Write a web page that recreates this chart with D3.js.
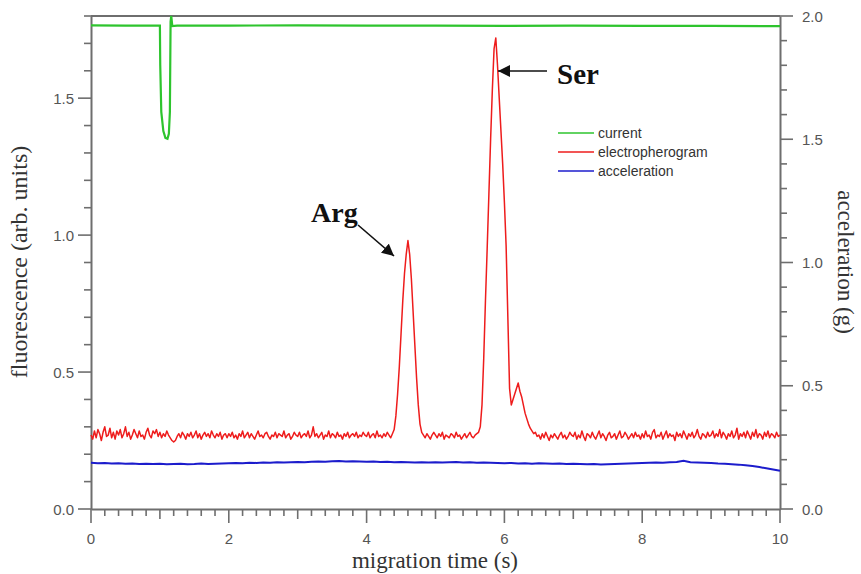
<!DOCTYPE html>
<html><head><meta charset="utf-8">
<script src="https://cdn.jsdelivr.net/npm/d3@7"></script>
<style>body{margin:0;background:#fff}svg{display:block}</style>
</head><body>
<svg id="c" width="861" height="574"></svg>
<script>
// ---- data ----
const xTicks = [0, 2, 4, 6, 8, 10];
const leftTicks = [0.0, 0.5, 1.0, 1.5];
const rightTicks = [0.0, 0.5, 1.0, 1.5, 2.0];
const seriesNames = ["current", "electropherogram", "acceleration"];
const seriesColors = ["#2ec42e", "#ee1c1c", "#1c1ccc"];

// electropherogram (fluorescence, arb. units), sampled every 0.025 s from 0 to 10 s
const ephStep = 0.025;
const ephValues = [
 // 0 s
 0.27,0.255,0.285,0.26,0.29,0.275,0.25,0.28,0.3,0.265,0.27,0.295,0.26,0.28,0.255,0.285,0.27,0.29,0.26,0.275,
 0.3,0.265,0.28,0.255,0.27,0.29,0.275,0.26,0.285,0.265,0.27,0.255,0.28,0.295,0.27,0.26,0.285,0.275,0.29,0.265,
 // 1 s
 0.28,0.26,0.275,0.265,0.285,0.27,0.26,0.25,0.245,0.25,0.265,0.275,0.26,0.28,0.27,0.255,0.275,0.265,0.28,0.26,
 0.27,0.285,0.26,0.275,0.255,0.27,0.28,0.265,0.275,0.26,0.285,0.27,0.26,0.275,0.265,0.28,0.255,0.27,0.275,0.26,
 // 2 s
 0.275,0.265,0.28,0.26,0.27,0.255,0.275,0.265,0.285,0.26,0.27,0.28,0.26,0.275,0.265,0.255,0.27,0.285,0.265,0.27,
 0.26,0.275,0.28,0.265,0.255,0.27,0.265,0.28,0.26,0.275,0.27,0.265,0.285,0.26,0.27,0.275,0.255,0.265,0.28,0.27,
 // 3 s
 0.265,0.28,0.26,0.27,0.275,0.265,0.285,0.26,0.27,0.3,0.265,0.275,0.26,0.27,0.28,0.255,0.27,0.265,0.285,0.26,
 0.275,0.27,0.26,0.28,0.265,0.27,0.255,0.275,0.265,0.28,0.26,0.27,0.275,0.265,0.28,0.26,0.27,0.265,0.28,0.27,
 // 4 s  (Arg peak)
 0.265,0.28,0.26,0.27,0.275,0.26,0.285,0.265,0.27,0.26,0.275,0.265,0.28,0.27,0.26,0.275,
 0.29,0.34,0.42,0.52,0.64,0.76,0.86,0.93,0.98,0.93,0.84,0.72,0.60,0.48,0.38,0.31,0.28,
 0.27,0.26,0.275,0.265,0.255,0.27,0.28,
 // 5 s  (Ser peak)
 0.27,0.26,0.275,0.265,0.28,0.255,0.27,0.265,0.26,0.275,0.27,0.26,0.28,0.265,0.27,0.255,0.265,0.275,0.26,0.27,
 0.28,0.265,0.26,0.27,0.275,0.28,
 0.30,0.38,0.55,0.76,0.95,1.15,1.35,1.53,1.68,1.72,1.62,1.50,1.38,1.26,
 // 6 s  (shoulder)
 1.12,0.96,0.70,0.44,0.38,0.40,0.42,0.44,0.46,0.43,0.41,0.38,0.35,0.33,0.31,0.295,0.285,0.275,
 0.28,0.265,0.27,0.255,0.275,0.26,0.28,0.265,0.25,0.27,0.26,0.275,0.265,0.255,0.27,0.28,0.26,0.27,0.255,0.265,0.28,0.27,
 // 7 s
 0.265,0.28,0.255,0.27,0.26,0.285,0.265,0.25,0.275,0.27,0.26,0.28,0.265,0.255,0.27,0.285,0.26,0.275,0.265,0.25,
 0.27,0.28,0.26,0.265,0.275,0.255,0.27,0.285,0.26,0.265,0.28,0.27,0.255,0.265,0.275,0.26,0.28,0.265,0.27,0.255,
 // 8 s
 0.275,0.26,0.285,0.265,0.27,0.255,0.28,0.29,0.26,0.27,0.265,0.28,0.255,0.27,0.285,0.26,0.275,0.265,0.27,0.25,
 0.28,0.265,0.275,0.26,0.285,0.27,0.255,0.275,0.265,0.28,0.26,0.27,0.29,0.265,0.255,0.275,0.27,0.26,0.28,0.265,
 // 9 s - 10 s
 0.27,0.285,0.26,0.275,0.265,0.29,0.26,0.28,0.27,0.255,0.275,0.265,0.285,0.26,0.27,0.295,0.255,0.275,0.265,0.28,
 0.26,0.285,0.27,0.255,0.28,0.265,0.29,0.26,0.275,0.27,0.255,0.28,0.265,0.285,0.26,0.275,0.27,0.26,0.28,0.265,0.27
];

// acceleration (g), sampled every 0.1 s
const accStep = 0.1;
const accValues = [
 0.188,0.186,0.187,0.185,0.186,0.184,0.185,0.183,0.184,0.183,
 0.184,0.182,0.183,0.184,0.182,0.183,0.185,0.183,0.184,0.185,
 0.186,0.187,0.186,0.188,0.187,0.189,0.188,0.190,0.189,0.190,
 0.191,0.190,0.192,0.193,0.192,0.194,0.195,0.193,0.194,0.193,
 0.192,0.193,0.191,0.192,0.190,0.191,0.190,0.189,0.190,0.189,
 0.190,0.189,0.190,0.191,0.189,0.190,0.188,0.189,0.188,0.187,
 0.186,0.187,0.185,0.186,0.184,0.186,0.185,0.184,0.185,0.183,
 0.184,0.183,0.182,0.183,0.181,0.182,0.183,0.184,0.185,0.186,
 0.187,0.188,0.189,0.188,0.190,0.191,0.196,0.190,0.189,0.188,
 0.187,0.185,0.184,0.182,0.180,0.177,0.174,0.170,0.165,0.160,0.155
];

// current (plotted against left scale), time / value pairs
const curTimes  = [0, 0.5, 1.0, 1.005, 1.02, 1.05, 1.08, 1.11, 1.13, 1.145, 1.155, 1.165, 1.18, 1.25, 2, 3, 4, 5, 6, 7, 8, 9, 10];
const curValues = [1.766, 1.765, 1.765, 1.62, 1.45, 1.38, 1.355, 1.352, 1.37, 1.45, 1.78, 1.80, 1.763, 1.765, 1.765, 1.766, 1.765, 1.765, 1.764, 1.765, 1.764, 1.764, 1.763];

// ---- layout ----
const L = 91, R = 780, T = 16, B = 509;
const svg = d3.select("#c");
const x = d3.scaleLinear().domain([0, 10]).range([L, R]);
const yL = d3.scaleLinear().domain([0, 1.8]).range([B, T]);
const yR = d3.scaleLinear().domain([0, 2.0]).range([B, T]);
const axisCol = "#6e6e6e";
const sans = "Liberation Sans, Arial, sans-serif";
const serif = "Liberation Serif, Times New Roman, serif";

// frame top line
svg.append("line").attr("x1", L).attr("x2", R).attr("y1", T).attr("y2", T)
  .attr("stroke", axisCol).attr("stroke-width", 2);

// ---- axes ----
function styleAxis(g) {
  g.select(".domain").attr("stroke", axisCol).attr("stroke-width", 2);
}
const xMinor = d3.range(0, 10.001, 0.2).map(v => Math.round(v * 10) / 10);
const xg = svg.append("g").attr("transform", `translate(0,${B})`)
  .call(d3.axisBottom(x).tickValues([]).tickSizeOuter(0));
styleAxis(xg);
svg.append("g").selectAll("line").data(xMinor).join("line")
  .attr("x1", d => x(d)).attr("x2", d => x(d)).attr("y1", B)
  .attr("y2", d => B + (Math.abs(d / 2 - Math.round(d / 2)) < 1e-6 ? 14 : Math.abs(d - Math.round(d)) < 1e-6 ? 10 : 7))
  .attr("stroke", axisCol).attr("stroke-width", 1.6);
svg.append("g").selectAll("text").data(xTicks).join("text")
  .attr("x", d => x(d)).attr("y", B + 35).attr("text-anchor", "middle")
  .attr("font-family", sans).attr("font-size", 15)
  .attr("fill", "#555").text(d => d);

const lMinor = d3.range(0, 1.801, 0.1).map(v => Math.round(v * 10) / 10);
const lg = svg.append("g").attr("transform", `translate(${L},0)`)
  .call(d3.axisLeft(yL).tickValues([]).tickSizeOuter(0));
styleAxis(lg);
svg.append("g").selectAll("line").data(lMinor).join("line")
  .attr("x1", d => L - (Math.abs(d * 2 - Math.round(d * 2)) < 1e-6 ? 13 : 7)).attr("x2", L)
  .attr("y1", d => yL(d)).attr("y2", d => yL(d)).attr("stroke", axisCol).attr("stroke-width", 1.6);
svg.append("g").selectAll("text").data(leftTicks).join("text")
  .attr("x", L - 17).attr("y", d => yL(d) + 5.5).attr("text-anchor", "end")
  .attr("font-family", sans).attr("font-size", 15)
  .attr("fill", "#555").text(d => d.toFixed(1));

const rMinor = d3.range(0, 2.001, 0.1).map(v => Math.round(v * 10) / 10);
const rg = svg.append("g").attr("transform", `translate(${R},0)`)
  .call(d3.axisRight(yR).tickValues([]).tickSizeOuter(0));
styleAxis(rg);
svg.append("g").selectAll("line").data(rMinor).join("line")
  .attr("x1", R).attr("x2", d => R + (Math.abs(d * 2 - Math.round(d * 2)) < 1e-6 ? 13 : 7))
  .attr("y1", d => yR(d)).attr("y2", d => yR(d)).attr("stroke", axisCol).attr("stroke-width", 1.6);
svg.append("g").selectAll("text").data(rightTicks).join("text")
  .attr("x", R + 22).attr("y", d => yR(d) + 5.5).attr("text-anchor", "start")
  .attr("font-family", sans).attr("font-size", 15)
  .attr("fill", "#555").text(d => d.toFixed(1));

// axis titles
svg.append("text").attr("x", 435).attr("y", 568).attr("text-anchor", "middle")
  .attr("font-family", serif).attr("font-size", 23).attr("fill", "#333").text("migration time (s)");
svg.append("text").attr("transform", `translate(27,262) rotate(-90)`).attr("text-anchor", "middle")
  .attr("font-family", serif).attr("font-size", 24).attr("fill", "#333").text("fluorescence (arb. units)");
svg.append("text").attr("transform", `translate(838,262) rotate(90)`).attr("text-anchor", "middle")
  .attr("font-family", serif).attr("font-size", 23).attr("fill", "#333").text("acceleration (g)");

// ---- series ----
const line = d3.line().x(d => x(d[0])).y(d => d[1]);
const curPts = curTimes.map((t, i) => [t, yL(curValues[i])]);
const ephPts = ephValues.map((v, i) => [i * ephStep, yL(v)]);
const accPts = accValues.map((v, i) => [i * accStep, yR(v)]);

svg.append("path").attr("d", line(accPts)).attr("fill", "none")
  .attr("stroke", seriesColors[2]).attr("stroke-width", 2);
svg.append("path").attr("d", line(ephPts)).attr("fill", "none")
  .attr("stroke", seriesColors[1]).attr("stroke-width", 1.5).attr("stroke-linejoin", "round");
svg.append("path").attr("d", line(curPts)).attr("fill", "none")
  .attr("stroke", seriesColors[0]).attr("stroke-width", 2.2);

// ---- legend ----
const leg = svg.append("g");
seriesNames.forEach((n, i) => {
  const yy = 133 + i * 19;
  leg.append("line").attr("x1", 558).attr("x2", 594).attr("y1", yy).attr("y2", yy)
    .attr("stroke", seriesColors[i]).attr("stroke-width", 1.6);
  leg.append("text").attr("x", 598).attr("y", yy + 5).attr("font-family", sans)
    .attr("font-size", 14).attr("fill", "#333").text(n);
});

// ---- annotations ----
svg.append("defs").append("marker").attr("id", "ah").attr("viewBox", "0 0 10 10")
  .attr("refX", 10).attr("refY", 5).attr("markerWidth", 12).attr("markerHeight", 12)
  .attr("markerUnits", "userSpaceOnUse").attr("orient", "auto")
  .append("path").attr("d", "M0,0 L10,5 L0,10 Z").attr("fill", "#111");

svg.append("line").attr("x1", 547).attr("y1", 71).attr("x2", 498).attr("y2", 71)
  .attr("stroke", "#111").attr("stroke-width", 1.6).attr("marker-end", "url(#ah)");
svg.append("text").attr("x", 557).attr("y", 84).attr("font-family", serif).attr("font-weight", "bold")
  .attr("font-size", 29).attr("fill", "#111").text("Ser");

svg.append("line").attr("x1", 358).attr("y1", 225).attr("x2", 394).attr("y2", 256)
  .attr("stroke", "#111").attr("stroke-width", 1.6).attr("marker-end", "url(#ah)");
svg.append("text").attr("x", 311).attr("y", 222).attr("font-family", serif).attr("font-weight", "bold")
  .attr("font-size", 28).attr("fill", "#111").text("Arg");
</script>
</body></html>
